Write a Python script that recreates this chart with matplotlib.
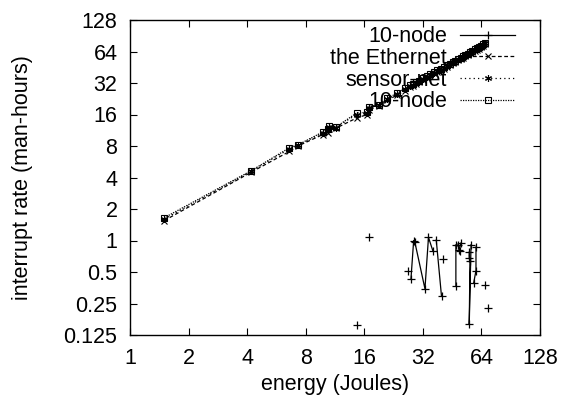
"""Interrupt rate versus energy, log-log (gnuplot look)."""

import matplotlib
matplotlib.use("Agg")
import matplotlib.pyplot as plt
from matplotlib.ticker import FixedLocator, FixedFormatter, NullLocator
import numpy as np

nan = np.nan

# lower "10-node" series (solid, +), NaN breaks the line like gnuplot blank rows
node_x = [14.6, nan, 17.0, nan, 26.7, nan,
          27.8, 28.7, 29.1, 32.8, 34.2, 36.0, nan,
          37.5, 39.9, nan, 40.7, nan,
          47.3, 47.3, 48.3, 49.8, 49.2, 50.2, nan,
          55.4, 55.4, 55.9, 55.4, 56.6, nan,
          58.4, 60.0, 60.0, nan, 67.0, nan, 69.0]
node_y = [0.156, nan, 1.09, nan, 0.508, nan,
          0.431, 1.00, 0.967, 0.346, 1.07, 0.80, nan,
          1.01, 0.293, nan, 0.666, nan,
          0.365, 0.912, 0.905, 0.788, 0.817, 0.947, nan,
          0.776, 0.68, 0.633, 0.159, 0.912, nan,
          0.393, 0.515, 0.867, nan, 0.379, nan, 0.224]

# upper three series share x
energy = [1.5, 4.2, 6.6, 7.3, 9.8, 10.4, 10.6, 11.4, 14.6, 16.6, 16.9, 19.0,
          21.0, 23.5, 26.0, 27.5, 28.5, 29.5, 30.5, 32.0, 33.5, 35.0, 36.5,
          38.0, 39.5, 41.0, 42.5, 44.0, 45.5, 47.0, 48.5, 50.0, 51.5, 53.0,
          54.5, 56.0, 57.5, 59.0, 60.5, 62.0, 63.5, 65.0, 66.5]
ethernet = [1.55, 4.5, 7.1, 8.0, 10.3, 10.6, 11.6, 11.8, 14.8, 16.0, 17.8, 19.3,
            21.8, 24.5, 27.0, 29.0, 30.0, 31.5, 32.5, 34.0, 36.0, 37.5, 39.5,
            41.0, 42.5, 44.0, 46.0, 47.5, 49.5, 51.0, 53.0, 54.5, 56.0, 58.0,
            59.5, 61.5, 63.0, 65.0, 66.5, 68.0, 70.0, 72.0, 75.0]
sensor = [1.6, 4.6, 7.5, 8.1, 10.7, 11.3, 12.2, 12.0, 16.0, 16.4, 18.6, 19.6,
          22.4, 25.0, 28.0, 30.0, 30.8, 32.2, 33.0, 35.0, 36.5, 38.5, 40.0,
          42.0, 43.0, 45.0, 47.0, 48.5, 50.5, 52.0, 54.0, 55.5, 57.0, 59.0,
          60.5, 62.5, 64.5, 66.0, 68.0, 69.5, 71.5, 74.0, 77.0]
node2 = [1.65, 4.65, 7.7, 8.2, 10.9, 11.6, 12.5, 12.1, 16.5, 16.8, 19.0, 19.8,
         22.8, 25.5, 28.5, 30.5, 31.0, 32.8, 33.5, 35.5, 37.0, 39.0, 40.5,
         42.5, 43.5, 45.5, 47.5, 49.0, 51.0, 52.5, 54.5, 56.0, 57.5, 59.5,
         61.0, 63.0, 65.0, 67.0, 68.5, 70.5, 72.0, 75.0, 78.0]

x_ticks = [1, 2, 4, 8, 16, 32, 64, 128]
x_labels = ["1", "2", "4", "8", "16", "32", "64", "128"]
y_ticks = [0.125, 0.25, 0.5, 1, 2, 4, 8, 16, 32, 64, 128]
y_labels = ["0.125", "0.25", "0.5", "1", "2", "4", "8", "16", "32", "64", "128"]

plt.rcParams["font.family"] = ["Liberation Sans", "DejaVu Sans"]
plt.rcParams["font.size"] = 15.5

fig = plt.figure(figsize=(5.63, 3.99), dpi=100)
ax = fig.add_axes([130 / 563, 1 - 335 / 399, 410 / 563, 315 / 399])

lw = 0.9
ax.plot(node_x, node_y, color="black", lw=lw, ls="-", marker="+",
        ms=6, mew=0.9, label="10-node", zorder=3)
ax.plot(energy, ethernet, color="black", lw=lw, ls=(0, (3, 2)), marker="x",
        ms=4.5, mew=0.8, label="the Ethernet", zorder=3)
ax.plot(energy, sensor, color="black", lw=lw, ls=(0, (1, 2.5)), marker=(6, 2, 0),
        ms=5, mew=0.8, label="sensor-net", zorder=3)
ax.plot(energy, node2, color="black", lw=lw, ls=(0, (1, 1)), marker="s",
        ms=5, mew=0.8, mfc="none", label="10-node", zorder=3)

ax.set_xscale("log", base=2)
ax.set_yscale("log", base=2)
ax.set_xlim(1, 128)
ax.set_ylim(0.125, 128)
ax.xaxis.set_major_locator(FixedLocator(x_ticks))
ax.xaxis.set_major_formatter(FixedFormatter(x_labels))
ax.yaxis.set_major_locator(FixedLocator(y_ticks))
ax.yaxis.set_major_formatter(FixedFormatter(y_labels))
ax.xaxis.set_minor_locator(NullLocator())
ax.yaxis.set_minor_locator(NullLocator())
ax.tick_params(direction="in", length=5, width=0.8, top=True, right=True)
ax.tick_params(axis="x", pad=9)
ax.tick_params(axis="y", pad=9)
for s in ax.spines.values():
    s.set_linewidth(1.0)

ax.set_xlabel("energy (Joules)", labelpad=4)
ax.set_ylabel("interrupt rate (man-hours)", labelpad=22)

leg = ax.legend(loc="upper right", bbox_to_anchor=(0.939, 0.98), frameon=False,
                markerfirst=False, handlelength=2.55, handletextpad=0.6,
                labelspacing=0.03, borderpad=0, borderaxespad=0)
for col in leg._legend_handle_box.get_children():
    col.align = "right"
leg.set_zorder(1)

fig.savefig("out.png", dpi=100)
